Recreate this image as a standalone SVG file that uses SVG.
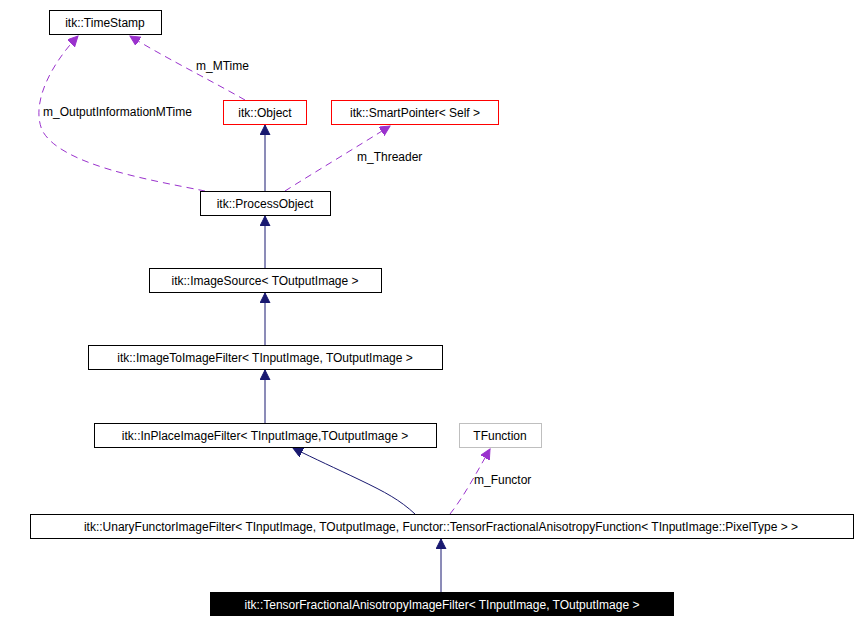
<svg xmlns="http://www.w3.org/2000/svg" width="860" height="623" viewBox="0 0 860 623">
<style>
text{font-family:"Liberation Sans",Arial,sans-serif;font-size:12px;fill:#000}
.b{fill:#fff;stroke:#000;stroke-width:1}
.r{fill:#fff;stroke:#f00;stroke-width:1}
.g{fill:#fff;stroke:#bfbfbf;stroke-width:1}
.s{fill:none;stroke:#191970;stroke-width:1}
.d{fill:none;stroke:#9a32cd;stroke-width:1;stroke-dasharray:7,5}
</style>
<defs>
<marker id="an" markerWidth="12" markerHeight="12" refX="10" refY="5" orient="auto" markerUnits="userSpaceOnUse"><path d="M0,0L10,5L0,10z" fill="#191970" stroke="#191970"/></marker>
<marker id="ap" markerWidth="12" markerHeight="12" refX="10" refY="5" orient="auto" markerUnits="userSpaceOnUse"><path d="M0,0L10,5L0,10z" fill="#9a32cd" stroke="#9a32cd"/></marker>
</defs>
<rect width="860" height="623" fill="#fff"/>
<g id="edges">
<path class="s" d="M265,191V125" marker-end="url(#an)"/>
<path class="s" d="M265,268V216" marker-end="url(#an)"/>
<path class="s" d="M265,345V293" marker-end="url(#an)"/>
<path class="s" d="M265,423V370" marker-end="url(#an)"/>
<path class="s" d="M415,514C400,500 385,492 360,480C335,468 315,459 293,448" marker-end="url(#an)"/>
<path class="s" d="M441,592V539" marker-end="url(#an)"/>
<path class="d" d="M245,100C210,80 160,55 130,36" marker-end="url(#ap)"/>
<path class="d" d="M205,191C150,180 60,165 42,130C30,100 55,60 78,36" marker-end="url(#ap)"/>
<path class="d" d="M285,191C310,175 360,145 390,126" marker-end="url(#ap)"/>
<path class="d" d="M450,514C465,495 478,470 490,449" marker-end="url(#ap)"/>
<text x="196" y="70">m_MTime</text>
<text x="43" y="116">m_OutputInformationMTime</text>
<text x="357" y="161">m_Threader</text>
<text x="474" y="484">m_Functor</text>
</g>
<g id="timestamp"><rect class="b" x="49.5" y="10.5" width="112" height="24"/><text x="105" y="27" text-anchor="middle">itk::TimeStamp</text></g>
<g id="object"><rect class="r" x="223.5" y="100.5" width="83" height="24"/><text x="265" y="117" text-anchor="middle">itk::Object</text></g>
<g id="smartpointer"><rect class="r" x="331.5" y="100.5" width="167" height="24"/><text x="415" y="117" text-anchor="middle">itk::SmartPointer&lt; Self &gt;</text></g>
<g id="processobject"><rect class="b" x="200.5" y="191.5" width="130" height="24"/><text x="265" y="208" text-anchor="middle">itk::ProcessObject</text></g>
<g id="imagesource"><rect class="b" x="149.5" y="268.5" width="232" height="24"/><text x="265" y="285" text-anchor="middle">itk::ImageSource&lt; TOutputImage &gt;</text></g>
<g id="imagetoimage"><rect class="b" x="88.5" y="345.5" width="354" height="24"/><text x="265" y="362" text-anchor="middle">itk::ImageToImageFilter&lt; TInputImage, TOutputImage &gt;</text></g>
<g id="inplace"><rect class="b" x="94.5" y="423.5" width="342" height="24"/><text x="265" y="440" text-anchor="middle">itk::InPlaceImageFilter&lt; TInputImage,TOutputImage &gt;</text></g>
<g id="tfunction"><rect class="g" x="459.5" y="423.5" width="82" height="24"/><text x="500" y="440" text-anchor="middle">TFunction</text></g>
<g id="unary"><rect class="b" x="30.5" y="514.5" width="823" height="24"/><text x="441" y="531" text-anchor="middle">itk::UnaryFunctorImageFilter&lt; TInputImage, TOutputImage, Functor::TensorFractionalAnisotropyFunction&lt; TInputImage::PixelType &gt; &gt;</text></g>
<g id="tensor"><rect x="210" y="592" width="464" height="24" fill="#000"/><text x="442" y="609" text-anchor="middle" style="fill:#fff">itk::TensorFractionalAnisotropyImageFilter&lt; TInputImage, TOutputImage &gt;</text></g>
</svg>
